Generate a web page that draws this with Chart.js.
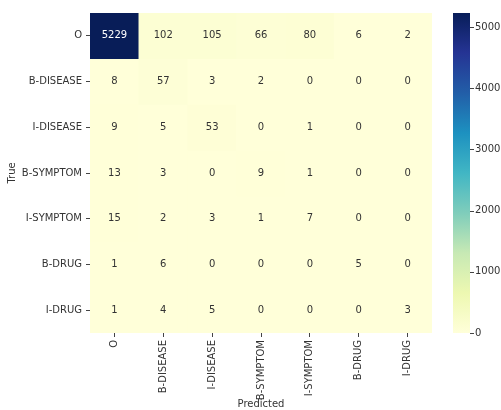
<!DOCTYPE html>
<html><head><meta charset="utf-8">
<script src="https://cdn.jsdelivr.net/npm/chart.js@4/dist/chart.umd.min.js"></script>
<style>html,body{margin:0;padding:0;background:#fff}</style>
</head><body>
<canvas id="c" width="501" height="410"></canvas>
<script>
const predictedLabels = ['O','B-DISEASE','I-DISEASE','B-SYMPTOM','I-SYMPTOM','B-DRUG','I-DRUG'];
const trueLabels = ['O','B-DISEASE','I-DISEASE','B-SYMPTOM','I-SYMPTOM','B-DRUG','I-DRUG'];
const rowO         = [5229, 102, 105, 66, 80, 6, 2];
const rowBDisease  = [8, 57, 3, 2, 0, 0, 0];
const rowIDisease  = [9, 5, 53, 0, 1, 0, 0];
const rowBSymptom  = [13, 3, 0, 9, 1, 0, 0];
const rowISymptom  = [15, 2, 3, 1, 7, 0, 0];
const rowBDrug     = [1, 6, 0, 0, 0, 5, 0];
const rowIDrug     = [1, 4, 5, 0, 0, 0, 3];
const matrix = [rowO, rowBDisease, rowIDisease, rowBSymptom, rowISymptom, rowBDrug, rowIDrug];
const colorbarTicks = [0, 1000, 2000, 3000, 4000, 5000];
const vmin = 0;
const vmax = Math.max(...matrix.flat());

const YLGNBU = ['#ffffd9','#edf8b1','#c7e9b4','#7fcdbb','#41b6c4','#1d91c0','#225ea8','#253494','#081d58'];
function hexToRgb(h){return [parseInt(h.slice(1,3),16),parseInt(h.slice(3,5),16),parseInt(h.slice(5,7),16)];}
const YRGB = YLGNBU.map(hexToRgb);
function mix(v){
  let t = (v - vmin) / (vmax - vmin); t = Math.max(0, Math.min(1, t));
  const p = t * (YRGB.length - 1); const i = Math.min(Math.floor(p), YRGB.length - 2); const f = p - i;
  const a = YRGB[i], b = YRGB[i+1];
  return a.map((c,k)=>c + (b[k]-c)*f);
}
function cmap(v){ return 'rgb(' + mix(v).map(Math.round).join(',') + ')'; }
function lum(v){ const c = mix(v).map(x=>x/255); return 0.2126*c[0] + 0.7152*c[1] + 0.0722*c[2]; }

Chart.defaults.font.family = '"DejaVu Sans", sans-serif';
Chart.defaults.font.size = 10;
Chart.defaults.color = '#262626';

const datasets = matrix.map((row, r) => ({
  label: trueLabels[r],
  data: row.map(() => [r - 0.5, r + 0.5]),
  backgroundColor: row.map(v => cmap(v)),
  borderWidth: 0,
  grouped: false,
  barPercentage: 1.0,
  categoryPercentage: 1.0,
  borderSkipped: false
}));

const heatPlugin = {
  id: 'heat',
  afterDatasetsDraw(chart) {
    const {ctx, scales: {x, y, cb}, chartArea} = chart;
    ctx.save();
    ctx.font = '10px "DejaVu Sans"';
    ctx.textAlign = 'center';
    ctx.textBaseline = 'middle';
    matrix.forEach((row, r) => row.forEach((v, c) => {
      ctx.fillStyle = lum(v) > 0.408 ? '#333333' : '#ffffff';
      ctx.fillText(String(v), x.getPixelForValue(c), y.getPixelForValue(r));
    }));
    // colorbar
    const x0 = chartArea.right + 21, w = 17;
    const yTop = cb.getPixelForValue(vmax), yBot = cb.getPixelForValue(vmin);
    const g = ctx.createLinearGradient(0, yBot, 0, yTop);
    YLGNBU.forEach((c, i) => g.addColorStop(i / (YLGNBU.length - 1), c));
    ctx.fillStyle = g;
    ctx.fillRect(x0, yTop, w, yBot - yTop);
    ctx.strokeStyle = '#444';
    ctx.lineWidth = 1;
    colorbarTicks.forEach(t => {
      const py = Math.round(cb.getPixelForValue(t)) + 0.5;
      ctx.beginPath(); ctx.moveTo(x0 + w, py); ctx.lineTo(x0 + w + 4, py); ctx.stroke();
    });
    ctx.restore();
  }
};

new Chart(document.getElementById('c'), {
  type: 'bar',
  data: { labels: predictedLabels, datasets },
  options: {
    responsive: false,
    animation: false,
    layout: { padding: { top: 13, left: 0, right: 0, bottom: 0 } },
    plugins: { legend: { display: false }, tooltip: { enabled: false } },
    scales: {
      x: {
        type: 'category',
        offset: true,
        grid: { display: true, drawOnChartArea: false, offset: false, tickLength: 4, color: '#444' },
        border: { display: false },
        ticks: { minRotation: 90, maxRotation: 90, padding: 3, color: '#333', autoSkip: false },
        title: { display: true, text: 'Predicted', padding: { top: 0, bottom: 0 }, color: '#333' },
        afterFit(s) { s.height = 77; s.paddingLeft = 0; s.paddingRight = 0; }
      },
      y: {
        type: 'linear',
        min: -0.5, max: 6.5,
        reverse: true,
        afterBuildTicks(s) { s.ticks = trueLabels.map((_, i) => ({ value: i })); },
        grid: { display: true, drawOnChartArea: false, tickLength: 4, color: '#444' },
        border: { display: false },
        ticks: { callback: v => trueLabels[v] ?? '', padding: 4, color: '#333', autoSkip: false },
        title: { display: true, text: 'True', padding: { top: 6, bottom: 0 }, color: '#333' },
        afterFit(s) { s.width = 90; s.paddingTop = 0; s.paddingBottom = 0; }
      },
      cb: {
        type: 'linear',
        position: 'right',
        min: vmin, max: vmax,
        afterBuildTicks(s) { s.ticks = colorbarTicks.map(v => ({ value: v })); },
        grid: { display: false, drawTicks: false },
        border: { display: false },
        ticks: { padding: 43, color: '#333', callback: v => String(v) },
        afterFit(s) { s.width = 69; s.paddingTop = 0; s.paddingBottom = 0; }
      }
    }
  },
  plugins: [heatPlugin]
});
</script>
</body></html>
